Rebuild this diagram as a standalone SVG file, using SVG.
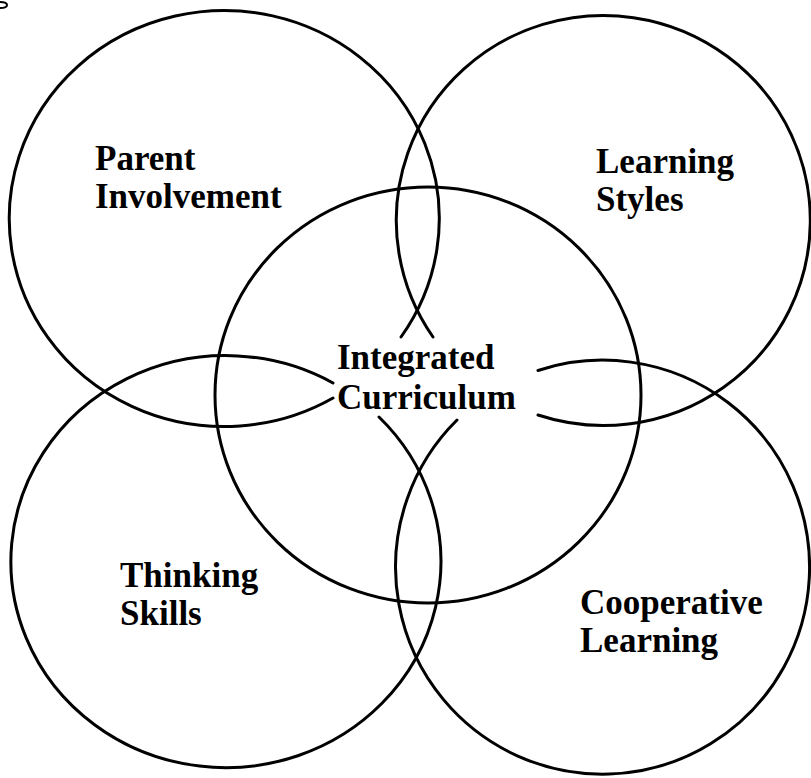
<svg xmlns="http://www.w3.org/2000/svg" width="811" height="778" viewBox="0 0 811 778">
<style>
.c{fill:none;stroke:#000;stroke-width:3;stroke-linecap:round}
.t{font-family:"Liberation Serif","Times New Roman",serif;font-weight:bold;font-size:35px;fill:#000}
</style>
<rect width="811" height="778" fill="#fff"/>
<g id="connectors">
<path d="M0 2 Q7 2 7 5 Q7 8 0 8" fill="none" stroke="#000" stroke-width="2"/>
</g>
<g id="center">
<ellipse class="c" cx="428" cy="395" rx="213" ry="208"/>
<text class="t" x="337" y="369">Integrated</text>
<text class="t" x="337" y="409">Curriculum</text>
</g>
<g id="parent">
<path class="c" d="M401 337 A215 208 0 1 0 333 398"/>
<text class="t" x="95" y="170">Parent</text>
<text class="t" x="95" y="208">Involvement</text>
</g>
<g id="learning">
<path class="c" d="M433 337 A207 205 0 1 1 538 415"/>
<text class="t" x="596" y="173">Learning</text>
<text class="t" x="596" y="211">Styles</text>
</g>
<g id="thinking">
<path class="c" d="M333 383 A215 206 0 1 0 379 417"/>
<text class="t" x="120" y="587">Thinking</text>
<text class="t" x="120" y="625">Skills</text>
</g>
<g id="cooperative">
<path class="c" d="M538 370.5 A207 207 0 1 1 457 420"/>
<text class="t" x="580" y="614">Cooperative</text>
<text class="t" x="580" y="652">Learning</text>
</g>
</svg>
